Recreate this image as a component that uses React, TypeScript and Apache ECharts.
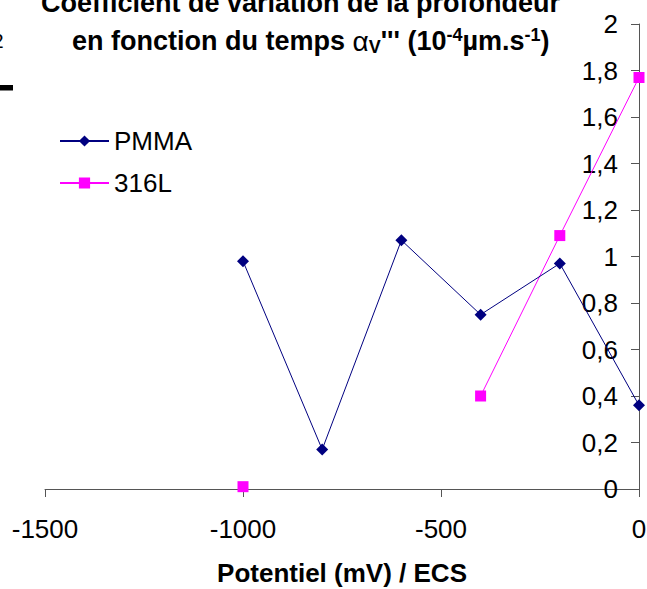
import React, { useEffect, useRef } from "react";
import * as echarts from "echarts";

const potentials = [-1000, -800, -600, -400, -200, 0];
const pmmaValues = [0.98, 0.17, 1.07, 0.75, 0.97, 0.36];
const steelValues: (number | null)[] = [0.01, null, null, 0.4, 1.09, 1.77];
const seriesNames = ["PMMA", "316L"];
const titleLine1 = "Coefficient de variation de la profondeur";
const xAxisTitle = "Potentiel (mV) / ECS";

const FONT = "'Liberation Sans', Arial, sans-serif";

export default function App() {
  const ref = useRef<HTMLDivElement>(null);
  useEffect(() => {
    if (!ref.current) return;
    const chart = echarts.init(ref.current, undefined, { renderer: "svg" });
    const fmtY = (v: number) => String(Number(v.toFixed(1))).replace(".", ",");
    chart.setOption({
      animation: false,
      backgroundColor: "#ffffff",
      textStyle: { fontFamily: FONT },
      grid: { left: 45, right: 8, top: 24, bottom: 100, containLabel: false, outerBoundsMode: "none" },
      legend: {
        orient: "vertical",
        left: 59,
        top: 128,
        padding: 0,
        itemGap: 16,
        itemWidth: 49,
        itemHeight: 14,
        textStyle: { fontSize: 26, color: "#000", fontFamily: FONT },
        data: seriesNames,
      },
      xAxis: {
        type: "value",
        min: -1500,
        max: 0,
        interval: 500,
        name: xAxisTitle,
        nameLocation: "middle",
        nameGap: 71,
        nameTextStyle: { fontSize: 26, fontWeight: "bold", color: "#000", fontFamily: FONT },
        axisLine: { show: true, onZero: false, lineStyle: { color: "#555", width: 1 } },
        axisTick: { show: true, length: 8, lineStyle: { color: "#555" } },
        axisLabel: {
          fontSize: 26,
          color: "#000",
          margin: 27,
          fontFamily: FONT,
          formatter: (v: number) => String(v),
        },
        splitLine: { show: false },
      },
      yAxis: {
        type: "value",
        min: 0,
        max: 2,
        interval: 0.2,
        position: "right",
        axisLine: { show: true, onZero: false, lineStyle: { color: "#555", width: 1 } },
        axisTick: { show: true, inside: true, length: 8, lineStyle: { color: "#555" } },
        axisLabel: {
          inside: true,
          fontSize: 26,
          color: "#000",
          margin: 21,
          fontFamily: FONT,
          formatter: fmtY,
        },
        splitLine: { show: false },
      },
      graphic: [
        {
          type: "text",
          style: {
            text: titleLine1,
            x: 41,
            y: 3,
            align: "left",
            verticalAlign: "middle",
            fontSize: 27,
            fontWeight: "bold",
            fontFamily: FONT,
            fill: "#000",
          },
        },
        {
          type: "text",
          style: {
            text:
              "{a|en fonction du temps }{g|α}{sub|V}{a|''' (10}{sup|-4}{a|µm.s}{sup|-1}{a|)}",
            x: 72,
            y: 41,
            align: "left",
            verticalAlign: "middle",
            fontSize: 27,
            fontWeight: "bold",
            fontFamily: FONT,
            fill: "#000",
            rich: {
              a: { fontSize: 27, fontWeight: "bold", fontFamily: FONT, lineHeight: 30, fill: "#000" },
              g: { fontSize: 28, fontWeight: "normal", fontFamily: FONT, lineHeight: 30, fill: "#000" },
              sub: {
                fontSize: 18,
                fontWeight: "bold",
                fontFamily: FONT,
                lineHeight: 16,
                verticalAlign: "bottom",
                fill: "#000",
              },
              sup: {
                fontSize: 18,
                fontWeight: "bold",
                fontFamily: FONT,
                lineHeight: 16,
                verticalAlign: "top",
                fill: "#000",
              },
            },
          },
        },
        {
          type: "text",
          style: {
            text: "2",
            x: -8,
            y: 40,
            align: "left",
            verticalAlign: "middle",
            fontSize: 21,
            fontFamily: FONT,
            fill: "#000",
          },
        },
        {
          type: "rect",
          shape: { x: 0, y: 85, width: 13, height: 5.5 },
          style: { fill: "#000" },
        },
      ],
      series: [
        {
          name: seriesNames[0],
          type: "line",
          clip: false,
          symbol: "diamond",
          symbolSize: 12,
          itemStyle: { color: "#000080" },
          lineStyle: { color: "#000080", width: 1 },
          data: potentials.map((p, i) => [p, pmmaValues[i]]),
          z: 3,
        },
        {
          name: seriesNames[1],
          type: "line",
          clip: false,
          symbol: "rect",
          symbolSize: 11,
          connectNulls: false,
          itemStyle: { color: "#FF00FF" },
          lineStyle: { color: "#FF00FF", width: 1 },
          data: potentials.map((p, i) => [p, steelValues[i] === null ? "-" : steelValues[i]]),
          z: 2,
        },
      ],
    });
    return () => chart.dispose();
  }, []);
  return (
    <div
      ref={ref}
      style={{ position: "fixed", left: 0, top: 0, width: 647, height: 589, background: "#fff" }}
    />
  );
}
